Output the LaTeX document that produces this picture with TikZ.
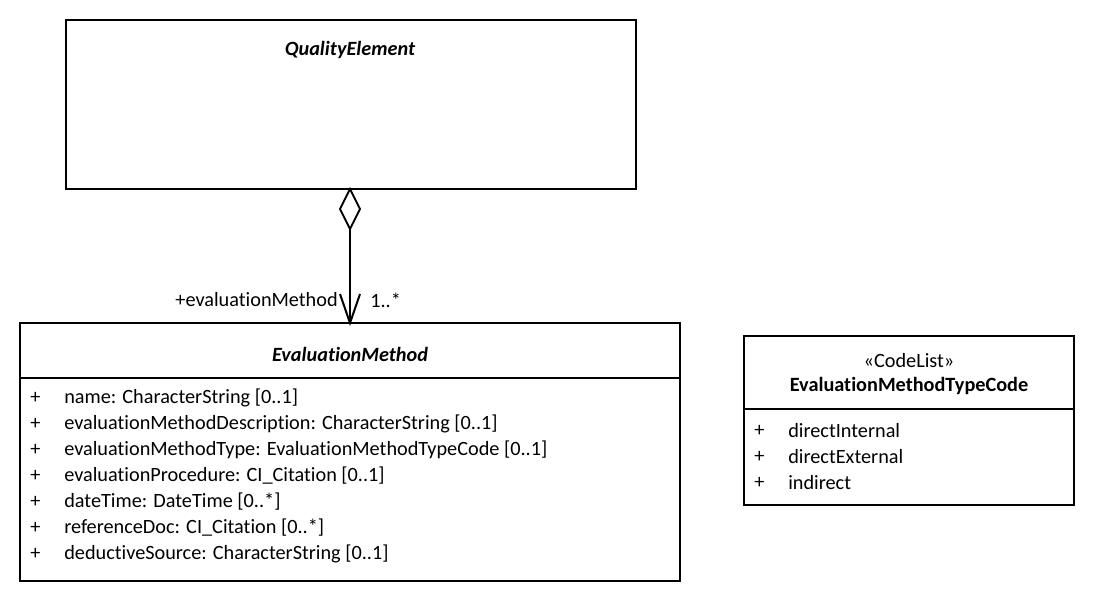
\documentclass[tikz,border=0pt]{standalone}
\usepackage{fontspec}
\setmainfont[RawFeature={-liga;-clig;-calt;-dlig}]{Carlito}
\usetikzlibrary{arrows.meta}
\begin{document}
\begin{tikzpicture}[x=0.75pt,y=-0.75pt,
  box/.style={draw,line width=1.5pt},
  txt/.style={inner sep=0pt,font=\fontsize{15.2}{18}\selectfont},
  attr/.style={txt,anchor=west},
  ttl/.style={txt,font=\fontsize{15.2}{18}\selectfont\bfseries\itshape},
  assoc/.style={line width=1.5pt}]
\useasboundingbox (0,0) rectangle (1094,602);
% QualityElement
\draw[box] (66,20) rectangle (636,189);
\node[ttl] (qe) at (350,50) {QualityElement};
% EvaluationMethod
\draw[box] (20,323) rectangle (680,581);
\draw[box] (20,378) -- (680,378);
\node[ttl] (em) at (350,354) {EvaluationMethod};
\foreach \y/\t in {398/{name: CharacterString [0..1]},
  424/{evaluationMethodDescription: CharacterString [0..1]},
  450/{evaluationMethodType: EvaluationMethodTypeCode [0..1]},
  476/{evaluationProcedure: CI\_Citation [0..1]},
  502/{dateTime: DateTime [0..*]},
  528/{referenceDoc: CI\_Citation [0..*]},
  554/{deductiveSource: CharacterString [0..1]}}{
  \node[attr] at (30,\y) {+};
  \node[attr] at (64,\y) {\t};
}
% CodeList
\draw[box] (744,336) rectangle (1074,505);
\draw[box] (744,409) -- (1074,409);
\node[txt] (st) at (909,361) {«CodeList»};
\node[txt,font=\fontsize{15.2}{18}\selectfont\bfseries] (cl) at (909,386) {EvaluationMethodTypeCode};
\foreach \y/\t in {431/directInternal,457/directExternal,483/indirect}{
  \node[attr] at (754,\y) {+};
  \node[attr] at (788,\y) {\t};
}
% association
\coordinate (top) at (350,189);
\coordinate (dbot) at (350,229);
\coordinate (end) at (350,323);
\draw[assoc,line join=miter] (top) -- (360,209) -- (dbot) -- (340,209) -- cycle;
\draw[assoc] (dbot) -- (end);
\draw[assoc,line join=miter] (340,294) -- (end) -- (360,294);
\node[txt,anchor=east] (role) at (338,300) {+evaluationMethod};
\node[txt,anchor=west] (mult) at (370,300) {1..*};
\end{tikzpicture}
\end{document}
